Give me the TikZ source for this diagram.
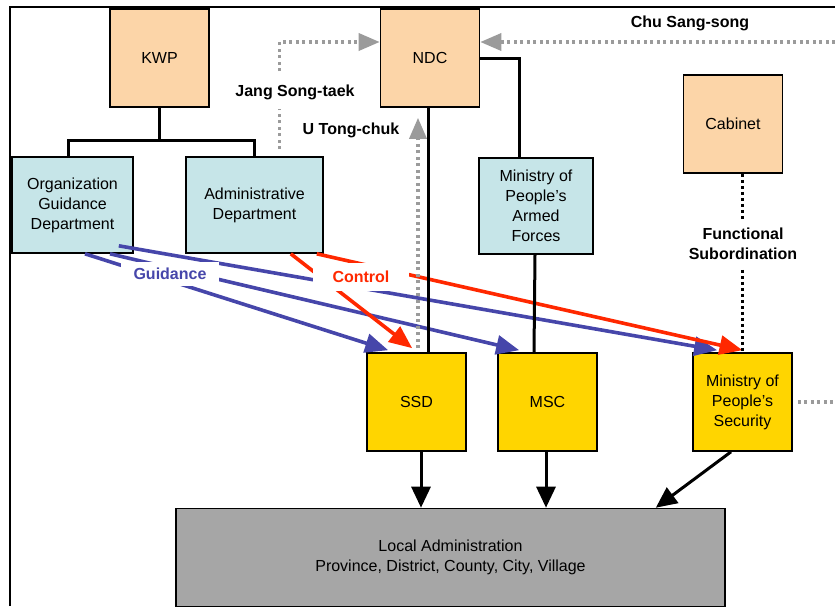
\documentclass[tikz,border=0pt]{standalone}
\usepackage{fontspec}
\setmainfont{Liberation Sans}
\usetikzlibrary{arrows.meta}
\definecolor{peach}{RGB}{252,213,168}
\definecolor{paleblue}{RGB}{198,229,232}
\definecolor{gold}{RGB}{255,213,0}
\definecolor{slab}{RGB}{166,166,166}
\definecolor{guide}{RGB}{70,70,170}
\definecolor{ctrl}{RGB}{255,40,0}
\definecolor{faint}{RGB}{155,155,155}
\begin{document}
\begin{tikzpicture}[x=1pt,y=-1pt,
    font=\fontsize{16}{20}\selectfont,
    box/.style={draw,line width=1.6pt,align=center,inner sep=0pt,minimum width=99pt,minimum height=98pt},
    party/.style={box,fill=peach},
    dept/.style={box,fill=paleblue,minimum height=96pt},
    agency/.style={box,fill=gold},
    tree/.style={line width=3pt},
    drop/.style={tree,-{Triangle[length=21pt,width=19pt]}},
    push/.style={line width=3.6pt,-{Triangle[length=23pt,width=19pt]}},
    tie/.style={faint,line width=3.5pt,dash pattern=on 3pt off 3.5pt},
    subord/.style={line width=3pt,dash pattern=on 3pt off 3pt},
    tag/.style={fill=white,font=\fontsize{16}{20}\selectfont\bfseries,align=center,inner xsep=2pt,inner ysep=4pt}]
  \useasboundingbox (0,0) rectangle (835,606);
  \draw[line width=1.6pt] (10,606) -- (10,7) -- (835,7);
  \node[party] (kwp) at (159.5,58) {KWP};
  \node[party] (ndc) at (430,58) {NDC};
  \node[party] (cab) at (733,124) {Cabinet};
  \node[dept,minimum width=121pt] (ogd) at (72.5,205) {Organization\\Guidance\\Department};
  \node[dept,minimum width=137pt] (adm) at (254.5,205) {Administrative\\Department};
  \node[dept,minimum width=114pt] (mpaf) at (536,206) {Ministry of\\People’s\\Armed\\Forces};
  \node[agency] (ssd) at (416.5,402) {SSD};
  \node[agency] (msc) at (547.5,402) {MSC};
  \node[agency] (mps) at (742.5,402) {Ministry of\\People’s\\Security};
  \node[box,fill=slab,minimum width=549pt,minimum height=98pt] (loc) at (450.5,557.5) {Local Administration\\Province, District, County, City, Village};
  \coordinate (chu) at (835,42);
  \coordinate (edge) at (835,402);
  \draw[push,guide] ([xshift=12.5pt]ogd.south) -- ([xshift=22pt,yshift=2pt]ssd.north west);
  \draw[push,guide] ([xshift=37.5pt]ogd.south) -- ([xshift=22pt,yshift=2pt]msc.north west);
  \draw[push,guide] ([xshift=-15pt,yshift=8pt]ogd.south east) -- ([xshift=25pt,yshift=2pt]mps.north west);
  \draw[push,ctrl] ([xshift=-33pt]adm.south east) -- ([xshift=46pt,yshift=4pt]ssd.north west);
  \draw[push,ctrl] ([xshift=-7pt]adm.south east) -- ([yshift=2pt]mps.north);
  \node[tag,text=guide,inner xsep=13pt,inner ysep=6pt] (gd) at (170,274) {Guidance};
  \node[tag,text=ctrl,inner xsep=20pt,inner ysep=8pt] (ct) at (361,277) {Control};
  \draw[tree] (kwp.south) -- ++(0,33) coordinate (fork);
  \draw[tree] ([xshift=-4pt]ogd.north) |- (fork) -| (adm.north);
  \draw[tree] (ndc.east) -| ([xshift=-17pt]mpaf.north);
  \draw[tree] ([xshift=-2pt]ndc.south) -- ([xshift=11.5pt]ssd.north);
  \draw[tree] ([xshift=-1pt]mpaf.south) -- ([xshift=-13.5pt]msc.north);
  \draw[drop] ([xshift=4.5pt]ssd.south) coordinate (ssdout) -- (ssdout |- loc.north);
  \draw[drop] ([xshift=-1.5pt]msc.south) coordinate (mscout) -- (mscout |- loc.north);
  \draw[drop] ([xshift=-11.5pt]mps.south) -- ([xshift=-70pt]loc.north east);
  \draw[tie,shorten <=7pt,-{Triangle[length=21pt,width=17pt]}] ([xshift=25pt]adm.north) |- ([yshift=16pt]ndc.west);
  \draw[tie,-{Triangle[length=21pt,width=17pt]}] (chu) -- ([yshift=16pt]ndc.east);
  \draw[tie,shorten <=4pt,-{Triangle[length=21pt,width=17pt]}] ([xshift=1.5pt]ssd.north) -- ([xshift=-12pt,yshift=-10pt]ndc.south);
  \draw[tie] ([xshift=5pt]mps.east) -- (edge);
  \draw[subord] (mps.north |- cab.south) -- (mps.north);
  \node[tag,inner ysep=10pt] (jang) at (295,92) {Jang Song-taek};
  \node[tag] (utc) at (351,130) {U Tong-chuk};
  \node[tag] (chs) at (690,23) {Chu Sang-song};
  \node[tag,inner ysep=9pt] (fs) at (743,244) {Functional\\Subordination};
\end{tikzpicture}
\end{document}
